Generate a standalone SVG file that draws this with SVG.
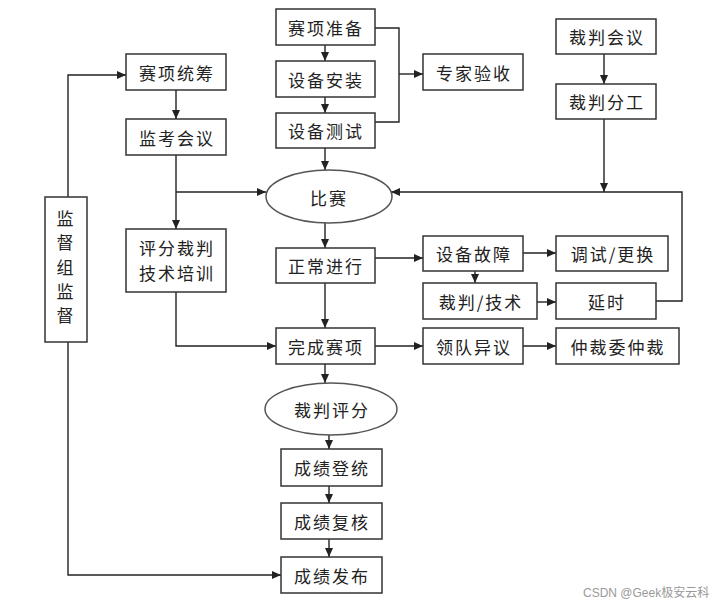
<svg xmlns="http://www.w3.org/2000/svg" width="726" height="606" viewBox="0 0 726 606">
<style>
.b{fill:#fff;stroke:#333;stroke-width:1.5}
.e{fill:#fff;stroke:#555;stroke-width:1.5}
.t{font-family:"Noto Sans CJK SC","Noto Sans CJK JP",sans-serif;font-size:17px;fill:#222;text-anchor:middle;dominant-baseline:central;letter-spacing:2px}
.c{fill:none;stroke:#222;stroke-width:1.4}
.a{marker-end:url(#ar)}
</style>
<defs>
<marker id="ar" markerWidth="9" markerHeight="8" refX="9" refY="4" orient="auto" markerUnits="userSpaceOnUse">
<path d="M0,0 L9,4 L0,8 Z" fill="#222"/>
</marker>
</defs>
<rect width="726" height="606" fill="#fff"/>
<g id="connectors">
<path class="c a" d="M68,197 V75 H126"/>
<path class="c a" d="M68,342 V575 H281"/>
<path class="c a" d="M176,90 V119"/>
<path class="c a" d="M176,155 V229"/>
<path class="c a" d="M176,192 H266"/>
<path class="c a" d="M176,292 V346 H276"/>
<path class="c a" d="M325,45 V61"/>
<path class="c a" d="M325,97 V113"/>
<path class="c a" d="M325,148 V170"/>
<path class="c" d="M375,28 H399 V122 H375"/>
<path class="c a" d="M399,74 H423"/>
<path class="c a" d="M604,54 V84"/>
<path class="c a" d="M604,119 V192"/>
<path class="c a" d="M656,301 H682 V192 H391"/>
<path class="c a" d="M325,223 V248"/>
<path class="c a" d="M325,283 V328"/>
<path class="c a" d="M325,364 V383"/>
<path class="c a" d="M375,258 H423"/>
<path class="c a" d="M523,253 H556"/>
<path class="c a" d="M475,271 V283"/>
<path class="c a" d="M537,302 H556"/>
<path class="c a" d="M375,346 H423"/>
<path class="c a" d="M523,346 H556"/>
<path class="c a" d="M329,435 V449"/>
<path class="c a" d="M329,486 V503"/>
<path class="c a" d="M329,539 V557"/>
</g>
<g id="n1"><rect class="b" x="276" y="9" width="99" height="36"/><text class="t" x="326" y="27">赛项准备</text></g>
<g id="n2"><rect class="b" x="276" y="61" width="99" height="36"/><text class="t" x="326" y="79">设备安装</text></g>
<g id="n3"><rect class="b" x="276" y="113" width="99" height="35"/><text class="t" x="326" y="130.5">设备测试</text></g>
<g id="n4"><rect class="b" x="423" y="54" width="100" height="36"/><text class="t" x="474" y="72">专家验收</text></g>
<g id="n5"><rect class="b" x="556" y="19" width="100" height="35"/><text class="t" x="607" y="36.5">裁判会议</text></g>
<g id="n6"><rect class="b" x="556" y="84" width="100" height="35"/><text class="t" x="607" y="101.5">裁判分工</text></g>
<g id="n7"><rect class="b" x="126" y="54" width="100" height="36"/><text class="t" x="177" y="72">赛项统筹</text></g>
<g id="n8"><rect class="b" x="126" y="119" width="100" height="36"/><text class="t" x="177" y="137">监考会议</text></g>
<g id="n9"><rect class="b" x="45" y="197" width="42" height="145"/>
<text class="t" x="66" y="217">监</text><text class="t" x="66" y="241">督</text><text class="t" x="66" y="266">组</text><text class="t" x="66" y="290">监</text><text class="t" x="66" y="314">督</text></g>
<g id="n10"><ellipse class="e" cx="329" cy="196.5" rx="63" ry="26.5"/><text class="t" x="329" y="197">比赛</text></g>
<g id="n11"><rect class="b" x="126" y="229" width="100" height="63"/><text class="t" x="177" y="247">评分裁判</text><text class="t" x="177" y="272">技术培训</text></g>
<g id="n12"><rect class="b" x="276" y="248" width="99" height="35"/><text class="t" x="326" y="265.5">正常进行</text></g>
<g id="n13"><rect class="b" x="423" y="236" width="100" height="35"/><text class="t" x="474" y="253.5">设备故障</text></g>
<g id="n14"><rect class="b" x="556" y="236" width="112" height="35"/><text class="t" x="613" y="253.5">调试/更换</text></g>
<g id="n15"><rect class="b" x="423" y="283" width="114" height="36"/><text class="t" x="481" y="301">裁判/技术</text></g>
<g id="n16"><rect class="b" x="556" y="283" width="100" height="36"/><text class="t" x="607" y="301">延时</text></g>
<g id="n17"><rect class="b" x="276" y="328" width="99" height="36"/><text class="t" x="326" y="346">完成赛项</text></g>
<g id="n18"><rect class="b" x="423" y="328" width="100" height="36"/><text class="t" x="474" y="346">领队异议</text></g>
<g id="n19"><rect class="b" x="556" y="328" width="123" height="36"/><text class="t" x="618" y="346">仲裁委仲裁</text></g>
<g id="n20"><ellipse class="e" cx="331" cy="409" rx="66" ry="26"/><text class="t" x="332" y="409">裁判评分</text></g>
<g id="n21"><rect class="b" x="281" y="449" width="101" height="37"/><text class="t" x="332" y="467.5">成绩登统</text></g>
<g id="n22"><rect class="b" x="281" y="503" width="101" height="36"/><text class="t" x="332" y="521">成绩复核</text></g>
<g id="n23"><rect class="b" x="281" y="557" width="101" height="36"/><text class="t" x="332" y="575">成绩发布</text></g>
<text x="583" y="597" font-family="'Liberation Sans','Noto Sans CJK SC',sans-serif" font-size="12" fill="#999">CSDN @Geek极安云科</text>
</svg>
